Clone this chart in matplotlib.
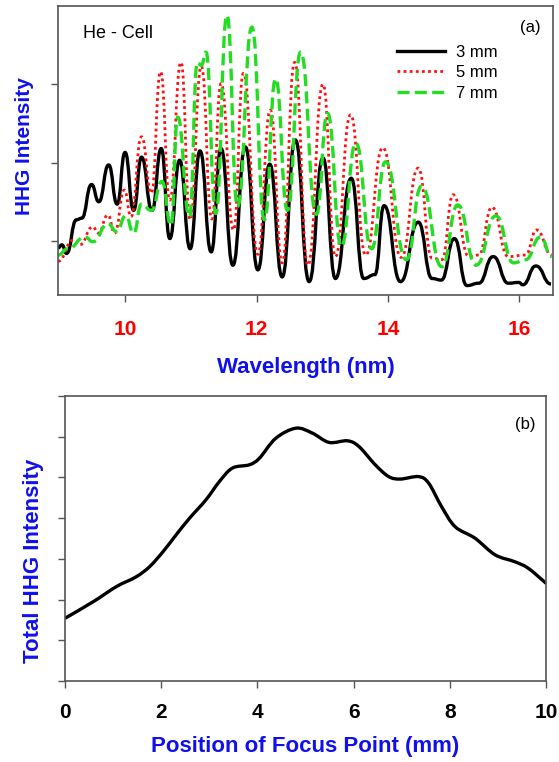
import matplotlib
matplotlib.use("Agg")
import matplotlib.pyplot as plt
from matplotlib.path import Path
from matplotlib.patches import PathPatch
from matplotlib.lines import Line2D

plt.rcParams["font.family"] = ["Liberation Sans", "DejaVu Sans"]

# (a) HHG spectra from the He cell at three cell lengths (arb. units),
# listed as the maxima / minima of the harmonic fringes
wl_3mm = [8.98, 9.04, 9.11, 9.26, 9.34, 9.49, 9.60, 9.75, 9.88, 10.00, 10.13,
          10.25, 10.41, 10.55, 10.68, 10.83, 10.99, 11.14, 11.31, 11.46, 11.64, 11.83,
          12.02, 12.20, 12.39, 12.59, 12.80, 13.01, 13.20, 13.44, 13.63, 13.80, 13.94,
          14.19, 14.46, 14.67, 14.81, 15.01, 15.20, 15.38, 15.60, 15.83, 15.99, 16.05,
          16.25, 16.48]
int_3mm = [0.91, 0.95, 0.84, 1.27, 1.29, 1.72, 1.50, 1.97, 1.47, 2.13, 1.39,
           2.07, 1.39, 2.18, 1.03, 2.03, 0.90, 2.15, 0.86, 2.18, 0.69, 2.20,
           0.63, 1.98, 0.54, 2.29, 0.48, 2.06, 0.52, 1.80, 0.52, 0.57, 1.45,
           0.48, 1.24, 0.52, 0.50, 1.03, 0.43, 0.46, 0.80, 0.46, 0.47, 0.44,
           0.68, 0.45]

wl_5mm = [8.98, 9.21, 9.31, 9.51, 9.59, 9.74, 9.84, 9.99, 10.09, 10.25, 10.40, 10.54,
          10.68, 10.85, 10.99, 11.16, 11.32, 11.46, 11.65, 11.80, 12.02, 12.21, 12.39,
          12.58, 12.78, 13.01, 13.20, 13.43, 13.66, 13.92, 14.20, 14.46, 14.67, 14.82,
          14.99, 15.23, 15.38, 15.58, 15.83, 16.09, 16.26, 16.49]
int_5mm = [0.74, 1.01, 0.95, 1.18, 1.10, 1.33, 1.10, 1.65, 1.31, 2.33, 1.61, 3.16,
           1.52, 3.28, 1.27, 3.23, 1.28, 3.01, 1.14, 3.14, 0.83, 2.67, 0.72,
           3.28, 0.69, 3.00, 0.80, 2.61, 0.82, 2.19, 0.79, 1.93, 0.78, 0.76,
           1.59, 0.80, 0.82, 1.43, 0.80, 0.82, 1.14, 0.82]

wl_7mm = [8.98, 9.13, 9.39, 9.51, 9.74, 9.87, 10.01, 10.13, 10.25, 10.40, 10.56, 10.70,
          10.80, 10.98, 11.10, 11.16, 11.23, 11.38, 11.55, 11.71, 11.93, 12.12, 12.29,
          12.47, 12.67, 12.91, 13.08, 13.29, 13.51, 13.75, 13.96, 14.28, 14.51, 14.82,
          15.06, 15.34, 15.64, 15.91, 16.09, 16.32, 16.49]
int_7mm = [0.82, 0.90, 1.05, 0.99, 1.22, 1.12, 1.32, 1.10, 1.47, 1.39, 1.76, 1.20,
           2.58, 1.31, 3.28, 3.24, 3.41, 1.35, 3.88, 1.44, 3.73, 1.27, 3.07,
           1.39, 3.41, 1.34, 2.63, 0.93, 2.25, 0.90, 2.01, 0.76, 1.70, 0.67,
           1.46, 0.69, 1.32, 0.72, 0.76, 1.05, 0.80]

# (b) total harmonic yield against focus position
focus_mm = [0.00, 0.59, 1.07, 1.48, 1.76, 2.04, 2.31, 2.59, 2.93, 3.21, 3.48, 3.83,
            4.04, 4.38, 4.80, 5.14, 5.49, 5.87, 6.11, 6.45, 6.73, 6.97, 7.35, 7.56,
            7.83, 8.11, 8.52, 8.94, 9.35, 9.63, 10.00]
total_int = [1.54, 1.95, 2.32, 2.56, 2.81, 3.18, 3.59, 4.00, 4.45, 4.90, 5.23, 5.31,
             5.47, 5.96, 6.21, 6.09, 5.86, 5.90, 5.76, 5.31, 5.02, 4.96, 5.02, 4.86,
             4.28, 3.79, 3.51, 3.10, 2.93, 2.77, 2.40]

wl_ticks = [10, 12, 14, 16]
focus_ticks = [0, 2, 4, 6, 8, 10]

spine_col = "#555555"
label_blue = "#1010ee"


def fringe_path(xs, ys):
    # cubic segments with flat tangents at every listed max/min
    verts = [(xs[0], ys[0])]
    codes = [Path.MOVETO]
    for i in range(1, len(xs)):
        h = (xs[i] - xs[i - 1]) / 2
        verts += [(xs[i - 1] + h, ys[i - 1]), (xs[i] - h, ys[i]), (xs[i], ys[i])]
        codes += [Path.CURVE4] * 3
    return Path(verts, codes)


def smooth_path(xs, ys):
    # Catmull-Rom style cubic segments through the points
    n = len(xs)
    verts = [(xs[0], ys[0])]
    codes = [Path.MOVETO]
    for i in range(n - 1):
        i0, i3 = max(i - 1, 0), min(i + 2, n - 1)
        c1 = (xs[i] + (xs[i + 1] - xs[i0]) / 6, ys[i] + (ys[i + 1] - ys[i0]) / 6)
        c2 = (xs[i + 1] - (xs[i3] - xs[i]) / 6, ys[i + 1] - (ys[i3] - ys[i]) / 6)
        verts += [c1, c2, (xs[i + 1], ys[i + 1])]
        codes += [Path.CURVE4] * 3
    return Path(verts, codes)


fig = plt.figure(figsize=(5.59, 7.62), dpi=100)
ax1 = fig.add_axes([0.1038, 0.6129, 0.8855, 0.3793])
ax2 = fig.add_axes([0.1163, 0.1063, 0.8605, 0.3740])

# spectra
styles = [
    (wl_3mm, int_3mm, "3 mm", dict(color="black", lw=2.4, linestyle="-")),
    (wl_5mm, int_5mm, "5 mm", dict(color="#ff1010", lw=2.0, linestyle=(0, (1, 1.2)))),
    (wl_7mm, int_7mm, "7 mm", dict(color="#22dd22", lw=2.4, linestyle=(0, (3.6, 1.6)))),
]
handles = []
for xs, ys, name, st in styles:
    ax1.add_patch(PathPatch(fringe_path(xs, ys), fill=False, edgecolor=st["color"],
                            lw=st["lw"], linestyle=st["linestyle"],
                            joinstyle="round", clip_on=True))
    handles.append(Line2D([], [], color=st["color"], lw=st["lw"],
                          linestyle=st["linestyle"], label=name))

ax1.set_xlim(8.98, 16.51)
ax1.set_ylim(0.31, 4.0)
ax1.set_xticks(wl_ticks)
ax1.set_yticks([1, 2, 3])
ax1.set_yticklabels([])
ax1.tick_params(axis="x", direction="out", length=5, width=1, color=spine_col,
                labelsize=15, labelcolor="#ff0000", pad=13)
ax1.tick_params(axis="y", direction="out", length=5, width=1, color=spine_col)
for lab in ax1.get_xticklabels():
    lab.set_fontweight("bold")
ax1.set_xlabel("Wavelength (nm)", fontsize=16, fontweight="bold", color=label_blue)
ax1.xaxis.label.set_va("center")
ax1.xaxis.set_label_coords(0.5, -0.25)
ax1.set_ylabel("HHG Intensity", fontsize=15, fontweight="bold", color=label_blue)
ax1.yaxis.label.set_va("center")
ax1.yaxis.set_label_coords(-0.067, 0.516)
ax1.text(0.05, 0.905, "He - Cell", transform=ax1.transAxes, fontsize=13,
         va="center", ha="left")
ax1.text(0.975, 0.925, "(a)", transform=ax1.transAxes, fontsize=12,
         va="center", ha="right")
ax1.legend(handles=handles, loc="upper left", bbox_to_anchor=(0.685, 0.865),
           frameon=False, fontsize=12, handlelength=2.9, handletextpad=0.65,
           labelspacing=0.32, borderpad=0, borderaxespad=0)

# total yield
ax2.add_patch(PathPatch(smooth_path(focus_mm, total_int), fill=False,
                        edgecolor="black", lw=2.4, joinstyle="round"))
ax2.set_xlim(0, 10)
ax2.set_ylim(0, 7)
ax2.set_xticks(focus_ticks)
ax2.set_yticks(range(8))
ax2.set_yticklabels([])
ax2.tick_params(axis="x", direction="out", length=5, width=1, color=spine_col,
                labelsize=15, labelcolor="black", pad=11)
ax2.tick_params(axis="y", direction="out", length=5, width=1, color=spine_col)
for lab in ax2.get_xticklabels():
    lab.set_fontweight("bold")
ax2.set_xlabel("Position of Focus Point (mm)", fontsize=16, fontweight="bold",
               color=label_blue)
ax2.xaxis.label.set_va("center")
ax2.xaxis.set_label_coords(0.5, -0.23)
ax2.set_ylabel("Total HHG Intensity", fontsize=16, fontweight="bold",
               color=label_blue)
ax2.yaxis.label.set_va("center")
ax2.yaxis.set_label_coords(-0.066, 0.42)
ax2.text(0.979, 0.9, "(b)", transform=ax2.transAxes, fontsize=12,
         va="center", ha="right")

for ax in (ax1, ax2):
    for sp in ax.spines.values():
        sp.set_color(spine_col)
        sp.set_linewidth(1.2)

fig.savefig("out.png", dpi=100)
